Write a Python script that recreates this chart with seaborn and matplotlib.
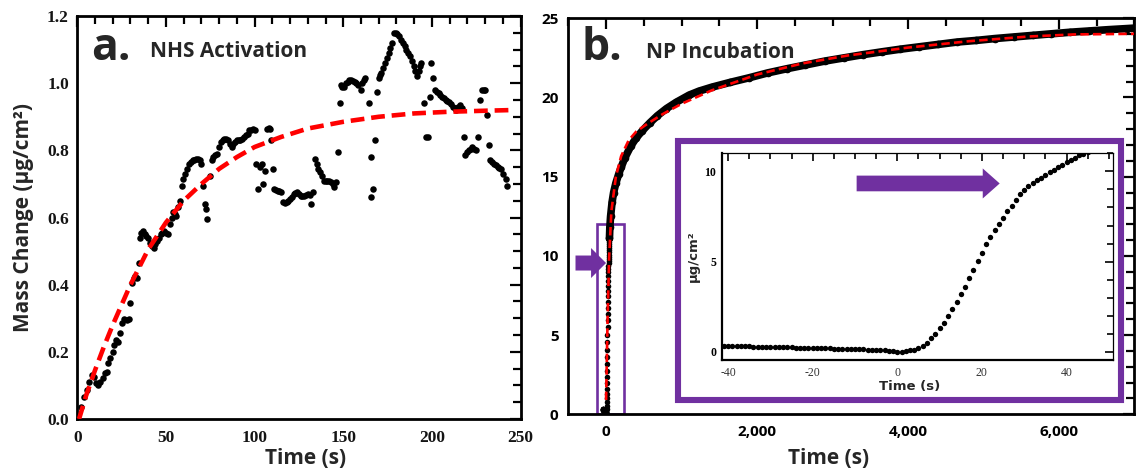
import matplotlib
matplotlib.use("Agg")
import matplotlib.pyplot as plt
from matplotlib.ticker import MultipleLocator, StrMethodFormatter
from matplotlib.patches import Rectangle
import seaborn as sns

sns.set_style("white")
plt.rcParams["font.family"] = ["Open Sans", "DejaVu Sans"]
plt.rcParams["axes.unicode_minus"] = False

PURPLE = "#7030A0"
RED = "#FF0000"

# ---- (a) NHS activation: measured mass change ----
nhs_time = [
    1.9, 3.8, 5.3, 6.8, 8.1, 9.4, 10.5, 11.8, 12.8, 14.3, 15.6, 16.5, 17.1, 18.4,
    19.9, 20.9, 21.6, 23.2, 24.2, 25.1, 26.4, 27.9, 29.2, 30.0, 30.8, 31.8, 32.8,
    33.8, 34.6, 35.2, 36.2, 37.0, 38.0, 39.0, 40.0, 41.0, 42.0, 43.0, 44.0, 45.0,
    46.0, 47.0, 48.0, 49.0, 50.0, 51.0, 52.3, 53.2, 53.8, 55.0, 55.8, 57.0, 57.8,
    58.8, 59.8, 60.8, 61.8, 62.8, 64.0, 65.0, 66.0, 67.0, 68.0, 69.0, 70.0, 70.9,
    71.9, 72.5, 73.3, 74.9, 75.8, 76.8, 77.9, 78.9, 79.9, 80.9, 81.9, 82.9, 83.9,
    84.9, 86.0, 87.0, 88.0, 89.0, 90.0, 91.0, 92.0, 93.0, 94.0, 95.0, 96.0, 97.0,
    98.0, 99.0, 100.0, 101.0, 102.0, 103.0, 104.0, 105.0, 106.0, 107.0, 108.0,
    108.7, 109.5, 110.2, 111.0, 112.0, 113.0, 114.0, 115.0, 116.0, 117.0, 118.0,
    119.0, 120.0, 121.0, 122.0, 123.0, 124.0, 125.0, 126.0, 127.0, 128.0, 129.0,
    130.0, 131.0, 132.0, 133.0, 134.0, 135.0, 136.0, 137.0, 138.0, 139.0, 140.0,
    141.0, 142.0, 143.0, 144.0, 145.0, 146.0, 147.0, 148.0, 148.6, 149.5, 150.4,
    151.4, 152.4, 153.4, 154.4, 155.4, 156.4, 157.4, 158.4, 159.8, 160.6, 161.4,
    162.4, 164.4, 165.5, 165.9, 167.0, 167.9, 169.0, 170.0, 170.8, 171.5, 172.5,
    173.5, 174.5, 175.5, 176.5, 177.5, 178.5, 179.5, 180.5, 181.6, 182.6, 183.6,
    184.6, 185.6, 186.6, 187.6, 188.6, 189.6, 190.6, 191.6, 192.6, 193.3, 194.0,
    195.7, 196.7, 197.5, 198.7, 199.7, 200.7, 201.7, 202.7, 203.7, 204.7, 205.7,
    206.7, 207.7, 208.7, 209.8, 210.8, 211.8, 212.8, 213.8, 214.8, 215.8, 216.8,
    217.8, 218.8, 219.8, 220.8, 221.8, 222.8, 223.8, 224.8, 225.9, 226.9, 228.3,
    229.2, 230.0, 231.0, 232.0, 233.0, 234.0, 235.0, 236.0, 237.0, 238.0, 239.0,
    240.3, 241.5, 242.3,
]
nhs_mass = [
    0.037, 0.066, 0.086, 0.111, 0.131, 0.124, 0.106, 0.101, 0.111, 0.121, 0.136,
    0.141, 0.166, 0.181, 0.200, 0.220, 0.235, 0.230, 0.255, 0.285, 0.297, 0.295,
    0.297, 0.345, 0.405, 0.420, 0.425, 0.420, 0.465, 0.540, 0.555, 0.560, 0.550,
    0.545, 0.540, 0.525, 0.515, 0.510, 0.520, 0.530, 0.540, 0.550, 0.555, 0.560,
    0.555, 0.550, 0.580, 0.600, 0.615, 0.610, 0.605, 0.630, 0.650, 0.695, 0.715,
    0.730, 0.745, 0.760, 0.765, 0.770, 0.770, 0.775, 0.775, 0.770, 0.760, 0.695,
    0.640, 0.625, 0.595, 0.725, 0.770, 0.780, 0.785, 0.790, 0.810, 0.825, 0.830,
    0.835, 0.835, 0.830, 0.820, 0.810, 0.820, 0.825, 0.830, 0.830, 0.832, 0.835,
    0.840, 0.845, 0.850, 0.860, 0.862, 0.865, 0.860, 0.760, 0.685, 0.750, 0.760,
    0.700, 0.740, 0.865, 0.868, 0.865, 0.830, 0.745, 0.685, 0.682, 0.680, 0.678,
    0.675, 0.645, 0.643, 0.645, 0.650, 0.655, 0.662, 0.670, 0.673, 0.675, 0.670,
    0.665, 0.665, 0.665, 0.667, 0.670, 0.668, 0.640, 0.675, 0.775, 0.760, 0.745,
    0.735, 0.725, 0.710, 0.710, 0.710, 0.708, 0.705, 0.700, 0.690, 0.705, 0.795,
    0.940, 0.995, 0.990, 0.990, 1.000, 1.005, 1.010, 1.010, 1.008, 1.005, 1.000,
    0.995, 0.980, 1.000, 1.010, 1.015, 0.940, 0.780, 0.660, 0.685, 0.830, 0.975,
    1.015, 1.025, 1.030, 1.045, 1.060, 1.075, 1.090, 1.105, 1.120, 1.150, 1.150,
    1.145, 1.140, 1.130, 1.120, 1.110, 1.100, 1.090, 1.080, 1.065, 1.050, 1.035,
    1.020, 1.035, 1.050, 1.060, 0.940, 0.840, 0.840, 0.960, 1.060, 1.015, 0.980,
    0.975, 0.970, 0.965, 0.960, 0.955, 0.950, 0.948, 0.945, 0.938, 0.930, 0.925,
    0.920, 0.928, 0.935, 0.925, 0.840, 0.785, 0.795, 0.800, 0.805, 0.810, 0.805,
    0.800, 0.840, 0.950, 0.980, 0.980, 0.980, 0.905, 0.815, 0.770, 0.765, 0.760,
    0.755, 0.750, 0.748, 0.745, 0.730, 0.715, 0.695,
]

# (a) kinetic fit curve
nhs_fit_time = [1, 5, 10, 15, 20, 25, 30, 40, 50, 60, 70, 80, 90, 100, 115,
                130, 150, 170, 190, 210, 230, 245]
nhs_fit_mass = [0.0, 0.07, 0.145, 0.215, 0.28, 0.34, 0.40, 0.505, 0.585, 0.65,
                0.70, 0.745, 0.78, 0.81, 0.84, 0.865, 0.885, 0.90, 0.91, 0.915,
                0.918, 0.92]

# ---- (b) NP incubation: first seconds (1 s sampling) ----
onset_time = list(range(-41, 46))
onset_mass = [
    0.32, 0.32, 0.31, 0.31, 0.30, 0.30, 0.30, 0.29, 0.29, 0.28, 0.28, 0.27,
    0.27, 0.26, 0.26, 0.25, 0.25, 0.24, 0.23, 0.23, 0.22, 0.21,
    0.21, 0.20, 0.20, 0.19, 0.18, 0.18, 0.17, 0.16, 0.16, 0.15,
    0.14, 0.14, 0.13, 0.12, 0.11, 0.10, 0.08, 0.06, 0.04, 0.02,
    0.02, 0.05, 0.08, 0.13, 0.22, 0.35, 0.52, 0.75, 1.00, 1.30,
    1.62, 1.98, 2.36, 2.76, 3.18, 3.62, 4.08, 4.55, 5.03, 5.50,
    5.95, 6.36, 6.74, 7.10, 7.44, 7.78, 8.10, 8.42, 8.72, 8.98,
    9.20, 9.38, 9.52, 9.66, 9.80, 9.94, 10.08, 10.22, 10.36, 10.50,
    10.63, 10.76, 10.88, 10.98, 11.06,
]

# (b) long-term uptake
np_time = [45, 50, 60, 80, 100, 130, 170, 200, 250, 330, 400, 480, 580, 680,
           800, 930, 1100, 1230, 1400, 1640, 1900, 2140, 2400, 2640, 2900, 3150,
           3400, 3650, 3900, 4150, 4400, 4650, 4900, 5150, 5400, 5650, 5900,
           6150, 6400, 6650, 6900, 7000]
np_mass = [11.1, 11.8, 12.5, 13.4, 14.0, 14.6, 15.2, 15.6, 16.2, 16.95, 17.45,
           17.9, 18.4, 18.85, 19.3, 19.7, 20.15, 20.4, 20.65, 20.95, 21.25,
           21.55, 21.82, 22.05, 22.3, 22.5, 22.7, 22.88, 23.05, 23.2, 23.35,
           23.5, 23.6, 23.72, 23.82, 23.92, 24.02, 24.12, 24.2, 24.28, 24.35,
           24.38]

# (b) kinetic fit curve
np_fit_time = [0, 10, 20, 40, 70, 130, 200, 300, 400, 550, 750, 1000, 1400,
               2000, 2600, 3200, 4000, 4800, 5600, 6200, 7000]
np_fit_mass = [0.9, 3.4, 6.0, 9.8, 12.8, 15.0, 16.3, 17.3, 17.85, 18.35, 18.95,
               19.6, 20.45, 21.45, 22.15, 22.65, 23.15, 23.55, 23.85, 23.98,
               24.02]

# ---- figure layout ----
fig = plt.figure(figsize=(11.38, 4.70), dpi=100)
ax_a = fig.add_axes([0.0679, 0.1085, 0.3896, 0.8574])
ax_b = fig.add_axes([0.4994, 0.1185, 0.4975, 0.8426])
ax_in = fig.add_axes([0.6342, 0.2340, 0.3439, 0.4398], zorder=5)

# panel a
sns.scatterplot(x=nhs_time, y=nhs_mass, ax=ax_a, color="black", s=22,
                linewidth=0, zorder=3)
sns.lineplot(x=nhs_fit_time, y=nhs_fit_mass, ax=ax_a, color=RED, lw=3.3,
             linestyle=(0, (3.0, 1.5)), zorder=4)

# panel b
sns.lineplot(x=np_time, y=np_mass, ax=ax_b, color="black", lw=5.5,
             marker="o", markersize=5.5, markeredgewidth=0, zorder=3)
sns.scatterplot(x=onset_time, y=onset_mass, ax=ax_b, color="black", s=16,
                linewidth=0, zorder=3)
sns.lineplot(x=np_fit_time, y=np_fit_mass, ax=ax_b, color=RED, lw=1.9,
             linestyle=(0, (3.2, 1.6)), zorder=4)

# inset: zoom on the onset
sns.scatterplot(x=onset_time, y=onset_mass, ax=ax_in, color="black", s=15,
                linewidth=0, zorder=3)

serif_bold = dict(family="Liberation Serif", weight="bold", size=12.5)
sans_bold = dict(family="Open Sans", weight="bold", size=11)

for ax in (ax_a, ax_b):
    ax.tick_params(which="both", direction="in", top=True, right=True,
                   width=1.6, colors="black")
    ax.tick_params(which="major", length=8)
    ax.tick_params(which="minor", length=5.5)
    for sp in ax.spines.values():
        sp.set_linewidth(2.0)
        sp.set_color("black")

ax_a.set_xlim(0, 250)
ax_a.set_ylim(0, 1.2)
ax_a.xaxis.set_major_locator(MultipleLocator(50))
ax_a.xaxis.set_minor_locator(MultipleLocator(10))
ax_a.yaxis.set_major_locator(MultipleLocator(0.2))
ax_a.yaxis.set_minor_locator(MultipleLocator(0.05))
ax_a.yaxis.set_major_formatter(StrMethodFormatter("{x:.1f}"))
ax_a.tick_params(axis="y", pad=6)
ax_a.tick_params(axis="x", pad=8)
for lab in ax_a.get_xticklabels() + ax_a.get_yticklabels():
    lab.set_fontproperties(serif_bold)
    lab.set_color("#141414")

ax_b.set_xlim(-500, 7000)
ax_b.set_ylim(0, 25)
ax_b.xaxis.set_major_locator(MultipleLocator(2000))
ax_b.xaxis.set_minor_locator(MultipleLocator(500))
ax_b.yaxis.set_major_locator(MultipleLocator(5))
ax_b.yaxis.set_minor_locator(MultipleLocator(1))
ax_b.xaxis.set_major_formatter(StrMethodFormatter("{x:,.0f}"))
ax_b.tick_params(axis="y", pad=7)
ax_b.tick_params(axis="x", pad=8)
for lab in ax_b.get_xticklabels() + ax_b.get_yticklabels():
    lab.set_fontproperties(sans_bold)

label_font = dict(fontsize=15, fontweight="bold", family="Open Sans")
ax_a.set_xlabel("Time (s)", **label_font)
ax_a.xaxis.set_label_coords(0.516, -0.072)
ax_a.set_ylabel("Mass Change (μg/cm²)", **label_font)
ax_a.yaxis.set_label_coords(-0.098, 0.5)
ax_b.set_xlabel("Time (s)", **label_font)
ax_b.xaxis.set_label_coords(0.46, -0.085)
ax_b.set_ylabel("")

# panel captions
ax_a.text(0.031, 0.891, "a.", transform=ax_a.transAxes, fontsize=32,
          fontweight="bold", va="baseline", ha="left")
ax_a.text(0.164, 0.8975, "NHS Activation", transform=ax_a.transAxes,
          fontsize=15, fontweight="bold", va="baseline", ha="left")
ax_b.text(0.0233, 0.895, "b.", transform=ax_b.transAxes, fontsize=32,
          fontweight="bold", va="baseline", ha="left")
ax_b.text(0.137, 0.8985, "NP Incubation", transform=ax_b.transAxes,
          fontsize=15, fontweight="bold", va="baseline", ha="left")

# region of panel b shown in the inset, and the inset frame
ax_b.add_patch(Rectangle((-115, 0.05), 355, 11.95, fill=False,
                         edgecolor=PURPLE, lw=1.9, zorder=2))
ax_b.add_patch(Rectangle((0.1937, 0.0361), 0.9761 - 0.1937, 0.690 - 0.0361,
                         transform=ax_b.transAxes, facecolor="white",
                         edgecolor=PURPLE, lw=4.4, zorder=4.5))

# arrow pointing at the onset in panel b
ax_b.annotate("", xy=(0, 9.55), xytext=(-22, 0), textcoords="offset points",
              arrowprops=dict(arrowstyle="simple,head_length=10.8,head_width=21.6,tail_width=10.8",
                              mutation_scale=1, color=PURPLE, shrinkA=0,
                              shrinkB=0, lw=0),
              zorder=5)

# inset axes styling
ax_in.set_xlim(-41.5, 51)
ax_in.set_ylim(-0.45, 11.0)
ax_in.xaxis.set_major_locator(MultipleLocator(20))
ax_in.xaxis.set_minor_locator(MultipleLocator(5))
ax_in.yaxis.set_major_locator(MultipleLocator(5))
ax_in.yaxis.set_minor_locator(MultipleLocator(1))
ax_in.tick_params(which="both", direction="in", top=True, right=True,
                  width=1.2, colors="black")
ax_in.tick_params(which="major", length=5.5)
ax_in.tick_params(which="minor", length=4)
ax_in.tick_params(axis="x", pad=5)
ax_in.tick_params(axis="y", pad=4)
for name, sp in ax_in.spines.items():
    sp.set_color("black")
    sp.set_linewidth(1.6 if name in ("left", "bottom") else 0.9)
for lab in ax_in.get_xticklabels():
    lab.set_fontproperties(dict(family="Liberation Serif", size=8.5))
    lab.set_color("#333333")
for lab in ax_in.get_yticklabels():
    lab.set_fontproperties(dict(family="Liberation Serif", weight="bold", size=8.5))
small_label = dict(fontsize=9.5, fontweight="bold", family="DejaVu Sans")
ax_in.set_xlabel("Time (s)", **small_label)
ax_in.xaxis.set_label_coords(0.479, -0.097)
ax_in.set_ylabel("μg/cm²", **small_label)
ax_in.yaxis.set_label_coords(-0.055, 0.5)

ax_in.annotate("", xy=(24.2, 9.33), xytext=(-103, 0), textcoords="offset points",
               arrowprops=dict(arrowstyle="simple,head_length=12.2,head_width=21.6,tail_width=11.3",
                               mutation_scale=1, color=PURPLE, shrinkA=0,
                               shrinkB=0, lw=0),
               zorder=5)

fig.savefig("out.png", dpi=100)
